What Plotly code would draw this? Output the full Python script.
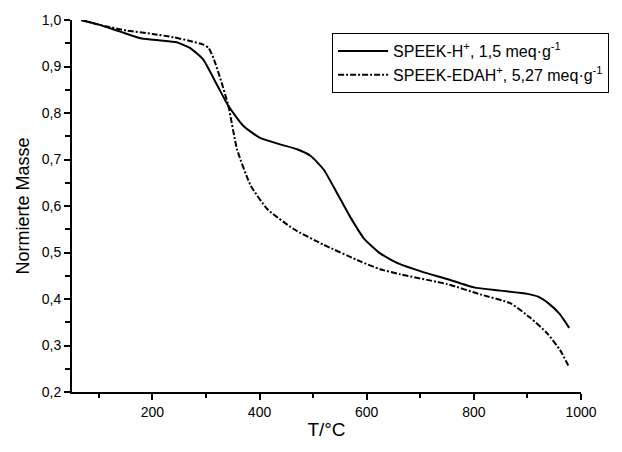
import plotly.graph_objects as go

# SPEEK-H+ (solid)
t_h = [67, 100, 140, 180, 215, 245, 270, 295, 320, 342, 370, 400, 440, 470, 495,
       520, 545, 570, 595, 625, 660, 700, 750, 800, 850, 900, 920, 940, 960, 978]
m_h = [1.0, 0.99, 0.975, 0.96, 0.956, 0.952, 0.94, 0.915, 0.862, 0.815, 0.772,
       0.747, 0.732, 0.722, 0.708, 0.678, 0.627, 0.575, 0.53, 0.498, 0.476, 0.46,
       0.443, 0.425, 0.418, 0.411, 0.405, 0.39, 0.368, 0.338]

# SPEEK-EDAH+ (dash-dot)
t_e = [67, 100, 153, 200, 239, 270, 295, 305, 315, 328, 342, 358, 383, 414, 463,
       519, 588, 625, 663, 750, 812, 868, 905, 937, 961, 978]
m_e = [1.0, 0.99, 0.977, 0.97, 0.963, 0.955, 0.947, 0.94, 0.915, 0.87, 0.815,
       0.722, 0.645, 0.594, 0.551, 0.517, 0.481, 0.464, 0.453, 0.432, 0.41, 0.391,
       0.36, 0.326, 0.29, 0.253]

names = ["SPEEK-H<sup>+</sup>, 1,5 meq·g<sup>-1</sup>",
         "SPEEK-EDAH<sup>+</sup>, 5,27 meq·g<sup>-1</sup>"]

fig = go.Figure()
fig.add_trace(go.Scatter(x=t_h, y=m_h, mode="lines", name=names[0],
                         line=dict(color="black", width=2, shape="spline", smoothing=0.5)))
fig.add_trace(go.Scatter(x=t_e, y=m_e, mode="lines", name=names[1],
                         line=dict(color="black", width=2, dash="6px,2px,2px,2px",
                                   shape="spline", smoothing=0.5)))

fig.update_layout(
    width=622, height=452,
    margin=dict(l=72, r=41, t=16, b=60),
    paper_bgcolor="white", plot_bgcolor="white",
    separators=",.",
    font=dict(family="Liberation Sans, Arial, sans-serif", color="black", size=14),
    showlegend=True,
    legend=dict(x=0.511, y=0.965, xanchor="left", yanchor="top",
                bordercolor="black", borderwidth=1, bgcolor="white",
                font=dict(size=16), tracegroupgap=6, itemwidth=50),
)
fig.update_xaxes(
    range=[50, 1000], showgrid=False, zeroline=False,
    showline=True, linecolor="black", linewidth=2,
    ticks="outside", ticklen=6, tickwidth=2, tickcolor="black",
    tick0=0, dtick=200, tickfont=dict(size=14),
    minor=dict(ticks="outside", ticklen=4, tickwidth=2, tickcolor="black", dtick=100, tick0=0),
    title=dict(text="T/°C", font=dict(size=19), standoff=4),
)
fig.update_yaxes(
    range=[0.2, 1.0], showgrid=False, zeroline=False,
    showline=True, linecolor="black", linewidth=2,
    ticks="outside", ticklen=6, tickwidth=2, tickcolor="black",
    tick0=0.2, dtick=0.1, tickformat=".1f", tickfont=dict(size=14),
    minor=dict(ticks="outside", ticklen=5, tickwidth=2, tickcolor="black", dtick=0.05, tick0=0.2),
    title=dict(text="Normierte Masse", font=dict(size=18), standoff=7),
)

fig.write_html("out.html", config={"displayModeBar": False},
               post_script="document.body.style.margin='0';")
